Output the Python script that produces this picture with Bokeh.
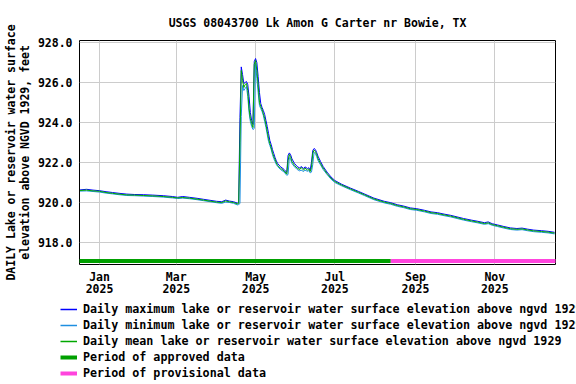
import pandas as pd
from bokeh.plotting import figure
from bokeh.layouts import column
from bokeh.models import (Range1d, FixedTicker, DatetimeTickFormatter, NumeralTickFormatter,
                          Legend, LegendItem, ColumnDataSource)
from bokeh.embed import file_html
from bokeh.resources import INLINE

TITLE = "USGS 08043700 Lk Amon G Carter nr Bowie, TX"
Y_LABEL = "DAILY Lake or reservoir water surface\nelevation above NGVD 1929, feet"

DATES = [
    "2024-12-17", "2024-12-22", "2024-12-27", "2025-01-01", "2025-01-06", "2025-01-11",
    "2025-01-16", "2025-01-22", "2025-01-28", "2025-02-04", "2025-02-11", "2025-02-19",
    "2025-02-26", "2025-03-02", "2025-03-06", "2025-03-11", "2025-03-17", "2025-03-22",
    "2025-03-27", "2025-04-01", "2025-04-05", "2025-04-08", "2025-04-11", "2025-04-14",
    "2025-04-17", "2025-04-18", "2025-04-19", "2025-04-20", "2025-04-21", "2025-04-22",
    "2025-04-23", "2025-04-24", "2025-04-25", "2025-04-26", "2025-04-27", "2025-04-28",
    "2025-04-29", "2025-04-30", "2025-05-01", "2025-05-02", "2025-05-03", "2025-05-04",
    "2025-05-05", "2025-05-06", "2025-05-07", "2025-05-08", "2025-05-09", "2025-05-10",
    "2025-05-11", "2025-05-12", "2025-05-13", "2025-05-14", "2025-05-15", "2025-05-16",
    "2025-05-17", "2025-05-18", "2025-05-20", "2025-05-23", "2025-05-25", "2025-05-26",
    "2025-05-27", "2025-05-28", "2025-05-29", "2025-05-31", "2025-06-02", "2025-06-04",
    "2025-06-05", "2025-06-07", "2025-06-08", "2025-06-10", "2025-06-11", "2025-06-12",
    "2025-06-13", "2025-06-14", "2025-06-15", "2025-06-16", "2025-06-17", "2025-06-18",
    "2025-06-20", "2025-06-22", "2025-06-25", "2025-06-28", "2025-07-01", "2025-07-06",
    "2025-07-13", "2025-07-19", "2025-07-24", "2025-07-31", "2025-08-08", "2025-08-13",
    "2025-08-18", "2025-08-23", "2025-08-28", "2025-09-02", "2025-09-08", "2025-09-13",
    "2025-09-18", "2025-09-23", "2025-09-28", "2025-10-03", "2025-10-08", "2025-10-14",
    "2025-10-19", "2025-10-24", "2025-10-27", "2025-10-30", "2025-11-03", "2025-11-08",
    "2025-11-13", "2025-11-18", "2025-11-22", "2025-11-26", "2025-12-01", "2025-12-07",
    "2025-12-12", "2025-12-17",
]

MEAN = [
    920.60, 920.62, 920.58, 920.56, 920.50, 920.46, 920.42, 920.38, 920.37, 920.35, 920.33, 920.30,
    920.26, 920.23, 920.25, 920.22, 920.17, 920.12, 920.07, 920.02, 920.00, 920.08, 920.03, 920.00,
    919.93, 919.95, 923.00, 926.60, 926.10, 925.75, 925.90, 925.95, 925.60, 924.70, 924.20, 923.95,
    923.75, 926.90, 927.10, 926.60, 925.90, 925.00, 924.80, 924.65, 924.45, 924.20, 923.90, 923.55,
    923.20, 922.95, 922.75, 922.50, 922.30, 922.15, 921.98, 921.85, 921.72, 921.58, 921.42, 922.10,
    922.40, 922.25, 922.05, 921.85, 921.72, 921.65, 921.75, 921.62, 921.72, 921.62, 921.68, 921.55,
    921.75, 922.45, 922.62, 922.55, 922.40, 922.20, 921.95, 921.72, 921.45, 921.22, 921.05, 920.88,
    920.68, 920.52, 920.38, 920.18, 920.02, 919.95, 919.85, 919.78, 919.69, 919.65, 919.57, 919.49,
    919.45, 919.38, 919.32, 919.24, 919.16, 919.08, 919.02, 918.95, 918.98, 918.90, 918.84, 918.76,
    918.69, 918.66, 918.68, 918.63, 918.58, 918.55, 918.52, 918.47,
]

MAX = [
    920.63, 920.66, 920.62, 920.59, 920.54, 920.50, 920.46, 920.42, 920.40, 920.39, 920.37, 920.34,
    920.30, 920.26, 920.30, 920.26, 920.21, 920.16, 920.11, 920.06, 920.04, 920.12, 920.07, 920.04,
    919.97, 920.00, 924.25, 926.78, 926.40, 925.95, 926.00, 926.05, 925.90, 925.30, 924.50, 924.10,
    923.90, 927.05, 927.20, 927.00, 926.30, 925.50, 924.95, 924.75, 924.60, 924.40, 924.10, 923.80,
    923.45, 923.10, 922.90, 922.65, 922.45, 922.25, 922.08, 921.95, 921.80, 921.65, 921.50, 922.35,
    922.48, 922.38, 922.18, 921.95, 921.80, 921.72, 921.80, 921.70, 921.78, 921.70, 921.74, 921.62,
    922.00, 922.60, 922.70, 922.65, 922.50, 922.32, 922.05, 921.80, 921.52, 921.28, 921.10, 920.92,
    920.72, 920.56, 920.42, 920.22, 920.06, 919.99, 919.89, 919.82, 919.73, 919.69, 919.61, 919.53,
    919.49, 919.42, 919.36, 919.28, 919.20, 919.12, 919.06, 918.99, 919.03, 918.94, 918.88, 918.80,
    918.73, 918.70, 918.72, 918.67, 918.62, 918.59, 918.56, 918.51,
]

MIN = [
    920.57, 920.58, 920.55, 920.52, 920.47, 920.43, 920.39, 920.35, 920.34, 920.32, 920.30, 920.27,
    920.23, 920.20, 920.22, 920.19, 920.14, 920.09, 920.04, 919.99, 919.96, 920.02, 920.00, 919.96,
    919.88, 919.90, 919.95, 924.30, 925.85, 925.60, 925.70, 925.80, 925.30, 924.50, 924.05, 923.80,
    923.65, 923.70, 926.95, 926.20, 925.50, 924.85, 924.70, 924.55, 924.35, 924.05, 923.75, 923.40,
    923.05, 922.85, 922.65, 922.40, 922.20, 922.05, 921.90, 921.80, 921.66, 921.52, 921.36, 921.40,
    922.25, 922.15, 921.95, 921.78, 921.65, 921.58, 921.62, 921.55, 921.62, 921.56, 921.60, 921.48,
    921.52, 921.90, 922.50, 922.45, 922.30, 922.10, 921.88, 921.65, 921.40, 921.17, 921.00, 920.84,
    920.64, 920.48, 920.34, 920.14, 919.98, 919.91, 919.81, 919.74, 919.65, 919.61, 919.53, 919.45,
    919.41, 919.34, 919.28, 919.20, 919.12, 919.04, 918.98, 918.91, 918.94, 918.86, 918.80, 918.72,
    918.65, 918.62, 918.64, 918.59, 918.54, 918.51, 918.48, 918.43,
]

Y_TICKS = [918, 920, 922, 924, 926, 928]
X_TICKS = ["2025-01-01", "2025-03-01", "2025-05-01", "2025-07-01", "2025-09-01", "2025-11-01"]
X_START, X_END = "2024-12-16 14:00", "2025-12-17 17:00"
Y_START, Y_END = 916.9, 928.1

APPROVED = ["2024-12-10", "2025-08-13"]
PROVISIONAL = ["2025-08-13", "2025-12-25"]
PERIOD_LEVEL = 917.075

LEGEND_LABELS = [
    "Daily maximum lake or reservoir water surface elevation above ngvd 1929",
    "Daily minimum lake or reservoir water surface elevation above ngvd 1929",
    "Daily mean lake or reservoir water surface elevation above ngvd 1929",
    "Period of approved data",
    "Period of provisional data",
]
COLORS = ["#0000ff", "#1e8fe0", "#00a800", "#00a000", "#ff44dd"]
WIDTHS = [1, 1, 1, 4, 4]
LEGEND_WIDTHS = [1.5, 1.5, 1.5, 4, 4]

FONT = "DejaVu Sans Mono"
FS = "11.5px"
LEGEND_FS = "11.7px"

src = ColumnDataSource(dict(date=pd.to_datetime(DATES), mean=MEAN, mx=MAX, mn=MIN))

p = figure(frame_width=476, frame_height=224, x_axis_type="datetime",
           x_range=Range1d(pd.Timestamp(X_START), pd.Timestamp(X_END)),
           y_range=Range1d(Y_START, Y_END),
           output_backend="svg", toolbar_location=None,
           min_border_left=78, min_border_right=22, min_border_top=40, min_border_bottom=36,
           background_fill_color="white", border_fill_color="white")

p.title.text = TITLE
p.title.align = "center"
p.title.text_font = FONT
p.title.text_font_style = "bold"
p.title.text_font_size = FS
p.title.text_color = "black"
p.title.standoff = 21

p.outline_line_color = "black"
p.outline_line_width = 1
p.outline_line_alpha = 1

p.line("date", "mx", source=src, line_color=COLORS[0], line_width=WIDTHS[0])
p.line("date", "mn", source=src, line_color=COLORS[1], line_width=WIDTHS[1])
p.line("date", "mean", source=src, line_color=COLORS[2], line_width=WIDTHS[2])

p.line(pd.to_datetime(APPROVED), [PERIOD_LEVEL] * 2, line_color=COLORS[3], line_width=WIDTHS[3])
p.line(pd.to_datetime(PROVISIONAL), [PERIOD_LEVEL] * 2, line_color=COLORS[4], line_width=WIDTHS[4])

xt = [int(pd.Timestamp(t).value // 10**6) for t in X_TICKS]
p.xaxis.ticker = FixedTicker(ticks=xt)
p.xaxis.formatter = DatetimeTickFormatter(days="%b\n%Y", months="%b\n%Y", years="%b\n%Y")
p.yaxis.ticker = FixedTicker(ticks=Y_TICKS)
p.yaxis.formatter = NumeralTickFormatter(format="0.0")

for ax in (p.xaxis[0], p.yaxis[0]):
    ax.axis_line_color = None
    ax.major_tick_out = 0
    ax.major_tick_in = 0
    ax.minor_tick_out = 0
    ax.minor_tick_in = 0
    ax.major_label_text_font = FONT
    ax.major_label_text_font_style = "bold"
    ax.major_label_text_font_size = FS
    ax.major_label_text_color = "black"

p.xaxis.major_label_standoff = 5
p.xaxis.major_label_text_line_height = 0.9
p.yaxis.major_label_standoff = 7
p.yaxis.axis_label = Y_LABEL
p.yaxis.axis_label_text_font = FONT
p.yaxis.axis_label_text_font_style = "bold"
p.yaxis.axis_label_text_font_size = FS
p.yaxis.axis_label_text_color = "black"
p.yaxis.axis_label_text_line_height = 1.0
p.yaxis.axis_label_standoff = 3

p.xgrid.grid_line_color = "#cccccc"
p.ygrid.grid_line_color = "#cccccc"
p.xgrid.grid_line_width = 1
p.ygrid.grid_line_width = 1

# legend panel below the chart (fixed frame size so it is not frame-aligned)
lg = figure(frame_width=576, frame_height=84, x_range=Range1d(0, 1), y_range=Range1d(0, 1),
            output_backend="svg", toolbar_location=None, min_border=0,
            x_axis_location=None, y_axis_location=None,
            background_fill_color="white", border_fill_color="white")
lg.outline_line_color = None
lg.grid.visible = False
dummies = [lg.line([-1.0, -0.5], [-1.0, -0.5], line_color=c, line_width=w)
           for c, w in zip(COLORS, LEGEND_WIDTHS)]

legend = Legend(
    items=[LegendItem(label=lab, renderers=[r]) for lab, r in zip(LEGEND_LABELS, dummies)],
    location=(60, 4),
    glyph_width=17, glyph_height=14, label_height=14, label_standoff=6,
    spacing=2, padding=0, margin=0,
    label_text_font=FONT, label_text_font_style="bold", label_text_font_size=LEGEND_FS,
    label_text_color="black",
    background_fill_alpha=0, border_line_alpha=0,
)
lg.add_layout(legend, "center")

layout = column(p, lg, spacing=0)
open("out.html", "w").write(file_html(layout, INLINE))
